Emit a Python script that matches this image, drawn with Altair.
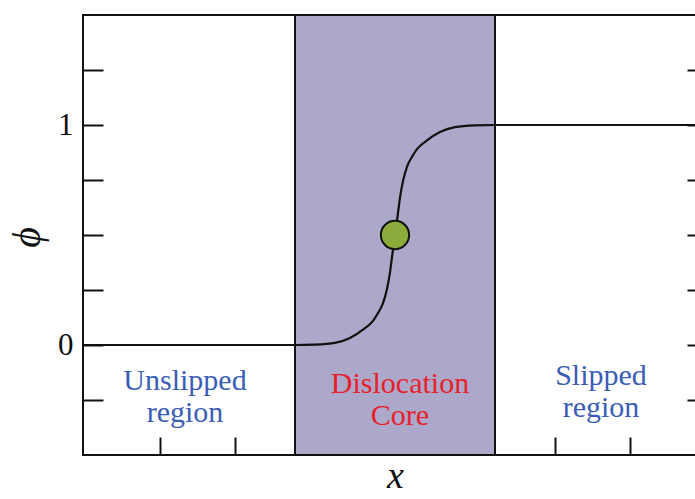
import altair as alt
import pandas as pd

# Axis ranges (x in units of the core half-width)
x_domain = [-3.12, 3.12]
phi_domain = [-0.5, 1.5]

# Tick positions
phi_ticks = [-0.25, 0.0, 0.25, 0.5, 0.75, 1.0, 1.25]
x_ticks = [-2.35, -1.6, 1.6, 2.35]

# Dislocation core extent
core_start = [-1.0]
core_end = [1.0]

# Disregistry profile phi(x) across the core
profile_x = [-3.12, -1.0, -0.8, -0.6, -0.45, -0.32, -0.22, -0.17, -0.12, -0.08,
             -0.05, -0.03, 0.0, 0.03, 0.05, 0.08, 0.12, 0.17, 0.22, 0.32,
             0.45, 0.6, 0.8, 1.0, 3.12]
profile_phi = [0.0, 0.0, 0.002, 0.01, 0.032, 0.07, 0.11, 0.145, 0.19, 0.255,
               0.33, 0.40, 0.5, 0.60, 0.67, 0.745, 0.81, 0.855, 0.89, 0.93,
               0.968, 0.99, 0.998, 1.0, 1.0]

# Core centre marker
centre_x = [0.0]
centre_phi = [0.5]

# Region annotations
region_text = ["Unslipped\nregion", "Dislocation\nCore", "Slipped\nregion"]
region_x = [-2.1, 0.05, 2.06]
region_phi = [-0.205, -0.218, -0.182]
region_color = ["#3a5db5", "#e8202a", "#3a5db5"]

SERIF = "Liberation Serif"
INK = "#111111"

x_scale = alt.Scale(domain=x_domain, nice=False, zero=False)
y_scale = alt.Scale(domain=phi_domain, nice=False, zero=False)

x_axis = alt.Axis(
    orient="bottom", values=x_ticks, offset=-18, domain=False, grid=False,
    tickSize=18, tickWidth=2, tickColor=INK, labels=False,
    title="x", titleFont=SERIF, titleFontStyle="italic", titleFontWeight="normal",
    titleFontSize=38, titleColor=INK, titleY=50, titleBaseline="alphabetic",
)

left_axis = alt.Axis(
    orient="left", values=phi_ticks, offset=-20, domain=False, grid=False,
    tickSize=20, tickWidth=2, tickColor=INK,
    labelExpr="datum.value == 0 ? '0' : (datum.value == 1 ? '1' : '')",
    labelFont=SERIF, labelFontSize=31, labelColor=INK, labelPadding=10,
    labelBaseline="middle",
    title="ϕ", titleFont=SERIF, titleFontStyle="italic", titleFontWeight="normal",
    titleFontSize=40, titleColor=INK, titleX=-76, titleY=222,
    titleAlign="center", titleBaseline="middle",
)

right_axis = alt.Axis(
    orient="right", values=phi_ticks, offset=-20, domain=False, grid=False,
    tickSize=20, tickWidth=2, tickColor=INK, labels=False, title=None,
)


def xenc(field):
    return alt.X(field, type="quantitative", scale=x_scale, axis=x_axis)


core_df = pd.DataFrame({"x0": core_start, "x1": core_end,
                        "y0": [phi_domain[0]], "y1": [phi_domain[1]]})
profile_df = pd.DataFrame({"x": profile_x, "phi": profile_phi})
centre_df = pd.DataFrame({"x": centre_x, "phi": centre_phi})
region_df = pd.DataFrame({"label": region_text, "x": region_x,
                          "phi": region_phi, "color": region_color})

core = alt.Chart(core_df).mark_rect(
    fill="#aca8c9", stroke=INK, strokeWidth=2
).encode(
    x=xenc("x0"), x2="x1",
    y=alt.Y("y0:Q", scale=y_scale, axis=left_axis), y2="y1",
)

profile = alt.Chart(profile_df).mark_line(
    color=INK, strokeWidth=2.2, interpolate="monotone"
).encode(
    x=xenc("x"),
    y=alt.Y("phi:Q", scale=y_scale, axis=right_axis),
)

centre = alt.Chart(centre_df).mark_point(
    filled=True, fill="#8cab3c", stroke=INK, strokeWidth=2, size=800, opacity=1
).encode(
    x=xenc("x"),
    y=alt.Y("phi:Q", scale=y_scale, axis=None),
)

regions = alt.Chart(region_df).mark_text(
    font=SERIF, fontSize=30, align="center", baseline="alphabetic",
    lineBreak="\n", lineHeight=32
).encode(
    x=xenc("x"),
    y=alt.Y("phi:Q", scale=y_scale, axis=None),
    text="label:N",
    color=alt.Color("color:N", scale=None),
)

chart = alt.layer(core, profile, centre, regions).resolve_axis(
    y="independent"
).properties(
    width=624, height=440,
    autosize=alt.AutoSizeParams(type="none"),
    padding={"left": 83, "top": 15, "right": -12, "bottom": 44},
    background="white",
).configure_view(stroke=INK, strokeWidth=2)

chart.save("out.html", embed_options={"renderer": "svg", "actions": False})
